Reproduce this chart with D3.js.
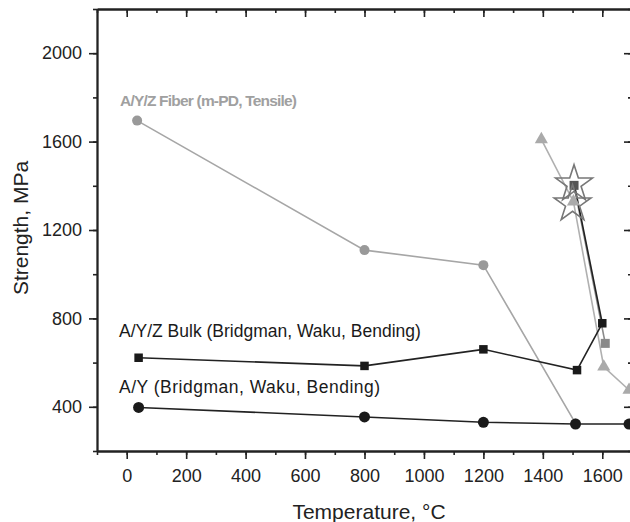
<!DOCTYPE html>
<html>
<head>
<meta charset="utf-8">
<script src="https://cdn.jsdelivr.net/npm/d3@7"></script>
<style>
  body { margin: 0; background: #fff; }
  text { font-family: "Liberation Sans", Arial, sans-serif; }
</style>
</head>
<body>
<script>
// data
var xTicks = [0, 200, 400, 600, 800, 1000, 1200, 1400, 1600];
var yTicks = [400, 800, 1200, 1600, 2000];

var ayTemp = [40, 800, 1200, 1510, 1690];
var ayStrength = [397, 354, 330, 322, 322];

var bulkTemp = [40, 800, 1200, 1515, 1600, 1507];
var bulkStrength = [622, 585, 660, 566, 778, 1400];

var fiberTemp = [35, 800, 1200, 1510];
var fiberStrength = [1695, 1109, 1041, 325];

var triTemp = [1395, 1503, 1605, 1690];
var triStrength = [1610, 1328, 581, 476];

var sqTemp = [1505, 1610];
var sqStrength = [1402, 687];

var starTemp = [1505, 1500];
var starStrength = [1408, 1318];

var labels = ["A/Y/Z Fiber (m-PD, Tensile)", "A/Y/Z Bulk (Bridgman, Waku, Bending)", "A/Y (Bridgman, Waku, Bending)"];

// chart size
var w = 630;
var h = 522;
var mLeft = 97, mRight = 632, mTop = 9, mBottom = 451;

var x = d3.scaleLinear().domain([-100, 1700]).range([mLeft, mRight]);
var y = d3.scaleLinear().domain([200, 2200]).range([mBottom, mTop]);

var svg = d3.select("body")
            .append("svg")
            .attr("width", w)
            .attr("height", h);

function zip(a, b) {
    return a.map(function(v, i) { return [v, b[i]]; });
}

// axes: outward ticks left/bottom, inward ticks top/right
var xMinor = d3.range(-100, 1701, 100);
var yMinor = d3.range(200, 2201, 200);

function axis(gen, tx, ty, values, size, fmt, pad) {
    svg.append("g")
       .attr("class", "ax")
       .attr("transform", "translate(" + tx + "," + ty + ")")
       .call(gen.tickValues(values).tickSize(size).tickSizeOuter(0).tickPadding(pad || 3).tickFormat(fmt || ""));
}

axis(d3.axisBottom(x), 0, mBottom, xMinor, 4);
axis(d3.axisBottom(x), 0, mBottom, xTicks, 8, d3.format("d"), 10);
axis(d3.axisBottom(x), 0, mTop, xMinor, 4);
axis(d3.axisBottom(x), 0, mTop, xTicks, 8);
axis(d3.axisLeft(y), mLeft, 0, yMinor, 4);
axis(d3.axisLeft(y), mLeft, 0, yTicks, 8, d3.format("d"), 7);
axis(d3.axisLeft(y), mRight, 0, yMinor, 4);
axis(d3.axisLeft(y), mRight, 0, yTicks, 8);

svg.selectAll(".domain").attr("stroke", "#222").attr("stroke-width", 1.8);
svg.selectAll(".tick line").attr("stroke", "#222").attr("stroke-width", 1.6);
svg.selectAll(".tick text")
   .attr("font-family", "Liberation Sans, Arial, sans-serif")
   .attr("font-size", 18)
   .attr("fill", "#222");

// axis titles
svg.append("text")
   .attr("x", 369)
   .attr("y", 519)
   .attr("text-anchor", "middle")
   .attr("font-size", 21)
   .attr("fill", "#222")
   .text("Temperature, °C");

svg.append("text")
   .attr("transform", "translate(28,228) rotate(-90)")
   .attr("text-anchor", "middle")
   .attr("font-size", 21)
   .attr("fill", "#222")
   .text("Strength, MPa");

var line = d3.line()
             .x(function(d) { return x(d[0]); })
             .y(function(d) { return y(d[1]); });

function drawLine(pts, color, width) {
    svg.append("path")
       .datum(pts)
       .attr("fill", "none")
       .attr("stroke", color)
       .attr("stroke-width", width)
       .attr("d", line);
}

function circles(pts, color, r) {
    svg.selectAll(null)
       .data(pts)
       .enter()
       .append("circle")
       .attr("cx", function(d) { return x(d[0]); })
       .attr("cy", function(d) { return y(d[1]); })
       .attr("r", r)
       .attr("fill", color);
}

function squares(pts, color, s) {
    svg.selectAll(null)
       .data(pts)
       .enter()
       .append("rect")
       .attr("x", function(d) { return x(d[0]) - s/2; })
       .attr("y", function(d) { return y(d[1]) - s/2; })
       .attr("width", s)
       .attr("height", s)
       .attr("fill", color);
}

function symbols(pts, type, size, fill) {
    svg.selectAll(null)
       .data(pts)
       .enter()
       .append("path")
       .attr("transform", function(d) { return "translate(" + x(d[0]) + "," + y(d[1]) + ")"; })
       .attr("d", d3.symbol().type(type).size(size))
       .attr("fill", fill);
}

var ay = zip(ayTemp, ayStrength);
var bulk = zip(bulkTemp, bulkStrength);
var fiber = zip(fiberTemp, fiberStrength);
var tri = zip(triTemp, triStrength);
var sq = zip(sqTemp, sqStrength);
var stars = zip(starTemp, starStrength);

// lines
drawLine(fiber, "#a6a6a6", 1.6);
drawLine(tri, "#b0b0b0", 1.6);
drawLine(sq, "#8a8a8a", 1.6);
drawLine(bulk, "#222", 1.6);
drawLine(ay, "#222", 1.6);

// markers
circles(fiber, "#999", 5);
symbols(tri, d3.symbolTriangle, 75, "#aaa");
squares(sq.slice(1), "#8a8a8a", 9);
squares(bulk.slice(0, 5), "#1a1a1a", 8.5);
circles(ay, "#1a1a1a", 5.5);
squares(sq.slice(0, 1), "#555", 9);

// open stars
var star = d3.symbol().type(d3.symbolStar).size(420);
svg.selectAll(null)
   .data(stars)
   .enter()
   .append("path")
   .attr("transform", function(d) { return "translate(" + x(d[0]) + "," + y(d[1]) + ")"; })
   .attr("d", star)
   .attr("fill", "none")
   .attr("stroke", "#777")
   .attr("stroke-width", 1.6);

// series labels
svg.append("text")
   .attr("x", 120).attr("y", 106)
   .attr("font-size", 15.5)
   .attr("font-weight", "bold")
   .attr("letter-spacing", -0.8)
   .attr("fill", "#a0a0a0")
   .text(labels[0]);

svg.append("text")
   .attr("x", 119).attr("y", 337)
   .attr("font-size", 17.5)
   .attr("fill", "#1a1a1a")
   .text(labels[1]);

svg.append("text")
   .attr("x", 119).attr("y", 393)
   .attr("font-size", 17.5)
   .attr("letter-spacing", 0.5)
   .attr("fill", "#1a1a1a")
   .text(labels[2]);
</script>
</body>
</html>
